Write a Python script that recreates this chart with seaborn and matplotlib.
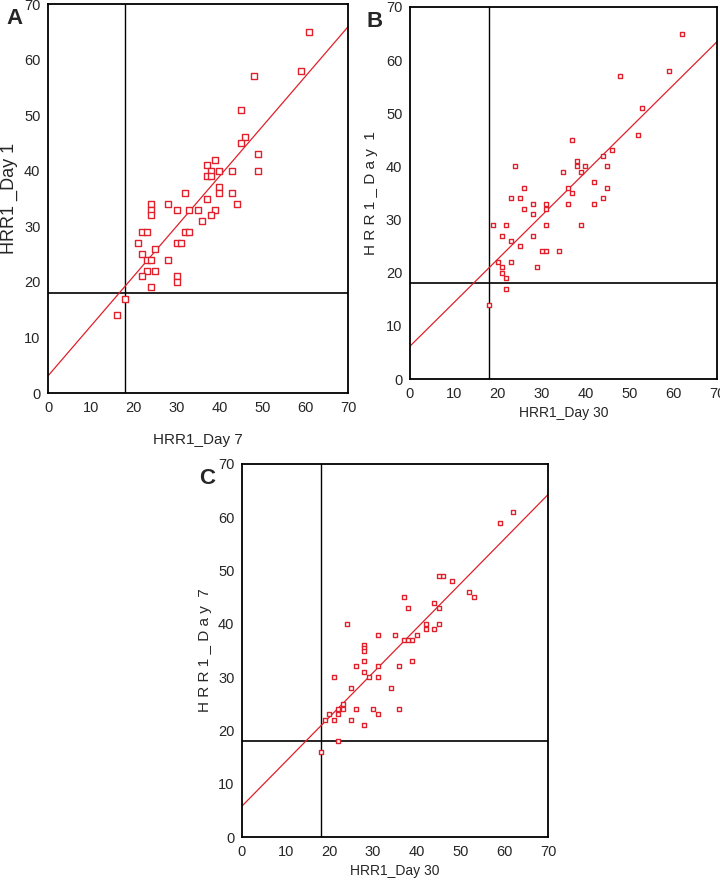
import matplotlib
matplotlib.use("Agg")
import matplotlib.pyplot as plt
import seaborn as sns
import pandas as pd

# =====================================================================
# DATA
# =====================================================================
# Panel A: Day 7 (x) vs Day 1 (y)
a_day7 = [61, 59, 48, 45, 46, 45, 49, 49, 39, 37, 38, 37, 38, 40, 43, 40, 40, 43,
          44, 37, 39, 38, 36, 35, 33, 32, 28, 30, 32, 33, 30, 31, 24, 24, 24, 22,
          23, 21, 25, 22, 23, 24, 28, 25, 23, 22, 30, 30, 24, 18, 16]
a_day1 = [65, 58, 57, 51, 46, 45, 43, 40, 42, 41, 40, 39, 39, 40, 40, 37, 36, 36,
          34, 35, 33, 32, 31, 33, 33, 36, 34, 33, 29, 29, 27, 27, 34, 33, 32, 29,
          29, 27, 26, 25, 24, 24, 24, 22, 22, 21, 21, 20, 19, 17, 14]

# Panel B: Day 30 (x) vs Day 1 (y)
b_day30 = [62, 59, 48, 53, 52, 46, 44, 45, 45, 44, 42, 42, 40, 39, 38, 38, 37, 37,
           36, 36, 35, 39, 34, 31, 30, 31, 31, 31, 28, 28, 28, 29, 26, 26, 25, 25,
           24, 23, 23, 23, 22, 22, 22, 21, 21, 21, 20, 19, 18]
b_day1 = [65, 58, 57, 51, 46, 43, 42, 40, 36, 34, 37, 33, 40, 39, 41, 40, 45, 35,
          36, 33, 39, 29, 24, 24, 24, 33, 32, 29, 33, 31, 27, 21, 36, 32, 34, 25,
          40, 34, 26, 22, 29, 19, 17, 27, 21, 20, 22, 29, 14]

# Panel C: Day 30 (x) vs Day 7 (y)
c_day30 = [62, 59, 46, 45, 48, 52, 53, 37, 44, 45, 38, 42, 42, 45, 44, 40, 39, 37,
           38, 35, 31, 24, 28, 28, 28, 28, 28, 26, 31, 36, 39, 29, 31, 21, 34, 25,
           26, 30, 31, 36, 25, 28, 23, 23, 22, 22, 21, 20, 19, 22, 18]
c_day7 = [61, 59, 49, 49, 48, 46, 45, 45, 44, 43, 43, 40, 39, 40, 39, 38, 37, 37,
          37, 38, 38, 40, 36, 35.5, 35, 33, 31, 32, 32, 32, 33, 30, 30, 30, 28, 28,
          24, 24, 23, 24, 22, 21, 25, 24, 24, 23, 22, 23, 22, 18, 16]

cutoff = 18
ticks = [0, 10, 20, 30, 40, 50, 60, 70]

panels = [
    dict(x=a_day7, y=a_day1, xlab="HRR1_Day 7", ylab="HRR1 _Day 1", tag="A",
         rect=[0.0667, 0.5564, 0.4167, 0.4390], ms=14, ysize=13, xsize=11,
         xpad=13, ypad=4),
    dict(x=b_day30, y=b_day1, xlab="HRR1_Day 30", ylab="H R R 1 _ D a y  1", tag="B",
         rect=[0.5694, 0.5722, 0.4264, 0.4199], ms=5, ysize=11, xsize=10,
         xpad=4, ypad=6),
    dict(x=c_day30, y=c_day7, xlab="HRR1_Day 30", ylab="H R R 1 _ D a y  7", tag="C",
         rect=[0.3361, 0.0553, 0.4250, 0.4210], ms=5, ysize=11, xsize=10,
         xpad=4, ypad=4),
]

# =====================================================================
# PLOT
# =====================================================================
sns.set_style("white")
plt.rcParams['font.family'] = ['Liberation Sans', 'DejaVu Sans']

red = "#e0202a"
fig = plt.figure(figsize=(7.2, 8.86), dpi=100)

for p in panels:
    ax = fig.add_axes(p["rect"])
    df = pd.DataFrame({"x": p["x"], "y": p["y"]})
    ax.set_xlim(0, 70)
    ax.set_ylim(0, 70)

    # cut-off lines at 18 bpm
    ax.axvline(cutoff, color="black", lw=1.0, zorder=1)
    ax.axhline(cutoff, color="black", lw=1.2, zorder=1)

    # fitted line over the full axis range, then the points
    sns.regplot(data=df, x="x", y="y", ax=ax, scatter=False, ci=None,
                truncate=False, line_kws=dict(color=red, lw=0.9, zorder=2))
    sns.scatterplot(data=df, x="x", y="y", ax=ax, marker="s", s=p["ms"],
                    facecolor="white", edgecolor=red, linewidth=1.0, zorder=3)

    ax.set_xlim(0, 70)
    ax.set_ylim(0, 70)
    ax.set_xticks(ticks)
    ax.set_yticks(ticks)
    ax.tick_params(direction="out", length=2.5, width=2.2, color="black",
                   labelsize=10.5, pad=3)
    for s in ax.spines.values():
        s.set_color("black")
        s.set_linewidth(1.3)
    ax.set_xlabel(p["xlab"], fontsize=p["xsize"], labelpad=p["xpad"])
    ax.set_ylabel(p["ylab"], fontsize=p["ysize"], labelpad=p["ypad"])
    ax.text(-0.14, 0.99, p["tag"], transform=ax.transAxes, fontsize=16,
            fontweight="bold", va="top", ha="left")

fig.savefig("out.png", dpi=100)
